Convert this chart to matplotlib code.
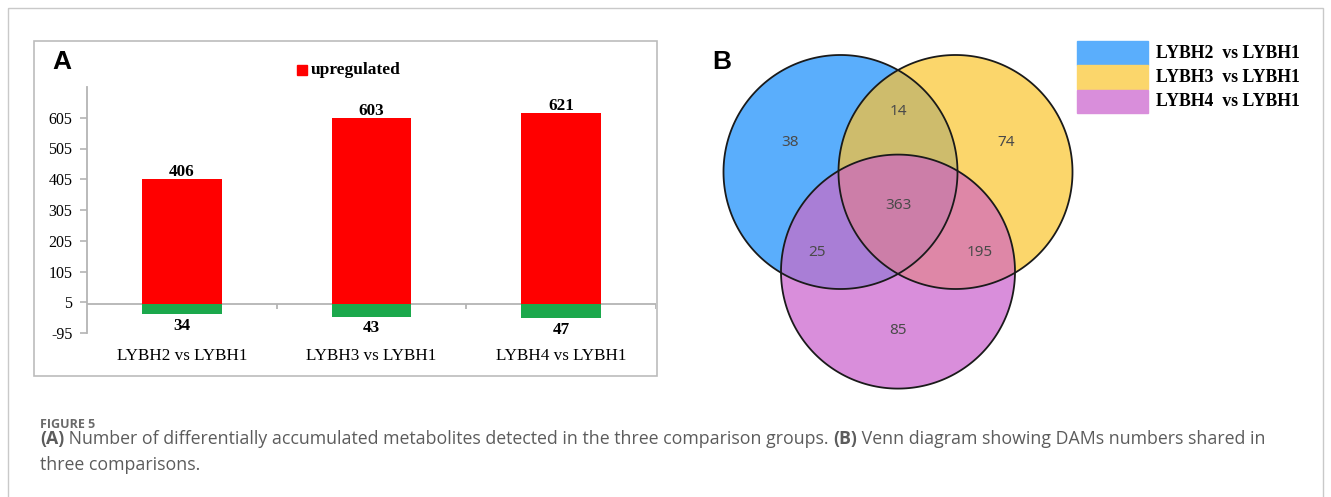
import numpy as np
import matplotlib
matplotlib.use("Agg")
import matplotlib.pyplot as plt
from matplotlib.patches import Rectangle, Polygon

# ---------------- data ----------------
categories = ["LYBH2 vs LYBH1", "LYBH3 vs LYBH1", "LYBH4 vs LYBH1"]
upregulated = [406, 603, 621]
downregulated = [34, 43, 47]
y_ticks = [-95, 5, 105, 205, 305, 405, 505, 605]

venn_sets = ["LYBH2  vs LYBH1", "LYBH3  vs LYBH1", "LYBH4  vs LYBH1"]
# region membership (set2, set3, set4) and counts
venn_regions = [(1, 0, 0), (1, 1, 0), (0, 1, 0), (1, 1, 1), (1, 0, 1), (0, 1, 1), (0, 0, 1)]
venn_counts = [38, 14, 74, 363, 25, 195, 85]

caption_title = "FIGURE 5"
caption_line1 = [("(A)", "bold"),
                 (" Number of differentially accumulated metabolites detected in the three comparison groups. ", "normal"),
                 ("(B)", "bold"),
                 (" Venn diagram showing DAMs numbers shared in", "normal")]
caption_line2 = [("three comparisons.", "normal")]

# ---------------- style ----------------
W, H = 1331, 497
RED = "#ff0000"
GREEN = "#1ba84c"
AXIS_GRAY = "#b4b4b4"
SERIF = "Liberation Serif"
SANS = "Liberation Sans"
CAP_FONT = "Open Sans"
CAP_COLOR = "#5c5c5c"

set_colors = ["#5aaefc", "#fbd66b", "#d98edb"]
pair_colors = {(0, 1): "#cebc6c", (0, 2): "#a97ed6", (1, 2): "#de87a7"}
triple_color = "#cc7ea8"

fig = plt.figure(figsize=(W / 100, H / 100), dpi=100)

# pixel-space overlay for frames, venn diagram and caption
ax0 = fig.add_axes([0, 0, 1, 1])
ax0.set_xlim(0, W)
ax0.set_ylim(H, 0)
ax0.axis("off")

ax0.add_patch(Rectangle((7.5, 7.5), 1315, 700, fill=False, ec="#c9c9c9", lw=1.0))
ax0.add_patch(Rectangle((34, 41), 623, 335, fill=False, ec="#bcbcbc", lw=1.2))

# ---------------- panel A: bar chart ----------------
ax = fig.add_axes([87 / W, (H - 333) / H, 569 / W, 246 / H])
ax.patch.set_alpha(0)
x = np.arange(len(categories))
bw = 0.42
ax.bar(x, upregulated, width=bw, color=RED, label="upregulated", zorder=2)
ax.bar(x, [-v for v in downregulated], width=bw, color=GREEN, zorder=2)
ax.set_xlim(-0.5, len(categories) - 0.5)
ax.set_ylim(-95, 705)
ax.axhline(0, color=AXIS_GRAY, lw=1.3, zorder=1)
ax.vlines(np.arange(len(categories)) + 0.5, -16, 0, color=AXIS_GRAY, lw=1.3, zorder=1)

for s in ["top", "right", "bottom"]:
    ax.spines[s].set_visible(False)
ax.spines["left"].set_color(AXIS_GRAY)
ax.spines["left"].set_linewidth(1.3)
ax.set_yticks(y_ticks)
ax.set_yticklabels([str(v) for v in y_ticks], fontfamily=SERIF, fontsize=11.5)
ax.tick_params(axis="y", direction="out", length=5, width=1.2, color=AXIS_GRAY, pad=5.5)
ax.set_xticks(x)
ax.set_xticklabels(categories, fontfamily=SERIF, fontsize=12.3)
ax.tick_params(axis="x", length=0, pad=11)

for xi, v in zip(x, upregulated):
    ax.annotate(str(v), (xi, v), xytext=(0, -0.5), textcoords="offset points",
                ha="center", va="bottom", fontfamily=SERIF, fontweight="bold", fontsize=12.3)
for xi, v in zip(x, downregulated):
    ax.annotate(str(v), (xi, -v), xytext=(0, -2.5), textcoords="offset points",
                ha="center", va="top", fontfamily=SERIF, fontweight="bold", fontsize=12.3)

ax0.text(52, 62, "A", fontfamily=SANS, fontweight="bold", fontsize=19, va="center", ha="left")
ax0.add_patch(Rectangle((297, 65), 10, 10, color=RED))
ax0.text(311, 70, "upregulated", fontfamily=SERIF, fontweight="bold", fontsize=12.5,
         va="center", ha="left")

# ---------------- panel B: venn diagram ----------------
side, radius = 115.0, 117.0
c0 = np.array([898.0 - side / 2, 172.0])
centers = [c0, c0 + [side, 0], c0 + [side / 2, side * np.sqrt(3) / 2]]
mid = np.mean(centers, axis=0)


def circle_poly(c, r, n=360):
    t = np.linspace(0, 2 * np.pi, n, endpoint=False)
    return np.column_stack([c[0] + r * np.cos(t), c[1] + r * np.sin(t)])


def clip(subject, clipper):
    out = [tuple(p) for p in subject]
    m = len(clipper)
    for i in range(m):
        ax_, ay_ = clipper[i]
        bx, by = clipper[(i + 1) % m]
        inp, out = out, []
        if not inp:
            break

        def side_of(p):
            return (bx - ax_) * (p[1] - ay_) - (by - ay_) * (p[0] - ax_)

        prev = inp[-1]
        sp = side_of(prev)
        for cur in inp:
            sc = side_of(cur)
            if sc >= 0:
                if sp < 0:
                    t = sp / (sp - sc)
                    out.append((prev[0] + t * (cur[0] - prev[0]), prev[1] + t * (cur[1] - prev[1])))
                out.append(cur)
            elif sp >= 0:
                t = sp / (sp - sc)
                out.append((prev[0] + t * (cur[0] - prev[0]), prev[1] + t * (cur[1] - prev[1])))
            prev, sp = cur, sc
    return np.array(out)


polys = [circle_poly(c, radius) for c in centers]
for p, col in zip(polys, set_colors):
    ax0.add_patch(Polygon(p, closed=True, fc=col, ec="none", zorder=2))
for (i, j), col in pair_colors.items():
    ax0.add_patch(Polygon(clip(polys[i], polys[j]), closed=True, fc=col, ec="none", zorder=3))
tri = clip(clip(polys[0], polys[1]), polys[2])
ax0.add_patch(Polygon(tri, closed=True, fc=triple_color, ec="none", zorder=4))
for p in polys:
    ax0.add_patch(Polygon(p, closed=True, fill=False, ec="#1a1a1a", lw=1.3, zorder=5))

# region labels placed radially from the centre of the diagram
label_dist = {1: 125.0, 2: 94.0, 3: 0.0}
for reg, cnt in zip(venn_regions, venn_counts):
    n_in = sum(reg)
    if n_in == 3:
        pos = mid
    else:
        if n_in == 1:
            d = centers[reg.index(1)] - mid
        else:
            d = mid - centers[reg.index(0)]
        pos = mid + label_dist[n_in] * d / np.hypot(*d)
    ax0.text(pos[0], pos[1], str(cnt), ha="center", va="center",
             fontfamily="Noto Sans", fontsize=11, color="#4a4a4a", zorder=6)

ax0.text(712, 62, "B", fontfamily=SANS, fontweight="bold", fontsize=19, va="center", ha="left")
for k, (name, col) in enumerate(zip(venn_sets, set_colors)):
    y0 = 41 + k * 24.3
    ax0.add_patch(Rectangle((1077, y0), 71, 23.5, color=col, zorder=2))
    ax0.text(1156, y0 + 12, name, fontfamily=SERIF, fontweight="bold", fontsize=12.8,
             va="center", ha="left")

# ---------------- caption ----------------
renderer = fig.canvas.get_renderer()


def draw_runs(x0, y0, runs, size, draw=True):
    xc = x0
    items = []
    for txt, wt in runs:
        t = ax0.text(xc, y0, txt, fontfamily=CAP_FONT, fontweight=wt, fontsize=size,
                     color=CAP_COLOR, va="baseline", ha="left")
        xc += t.get_window_extent(renderer).width
        items.append(t)
    if not draw:
        for t in items:
            t.remove()
    return xc - x0


cap_x = 40
target = 1256 - cap_x
base = 12.0
wdt = draw_runs(cap_x, 0, caption_line1, base, draw=False)
cap_size = base * target / wdt

ax0.text(cap_x, 428, caption_title, fontfamily=CAP_FONT, fontweight="bold", fontsize=9,
         color="#6a6a6a", va="baseline", ha="left")
draw_runs(cap_x, 444, caption_line1, cap_size)
draw_runs(cap_x, 470, caption_line2, cap_size)

fig.savefig("out.png", dpi=100)
